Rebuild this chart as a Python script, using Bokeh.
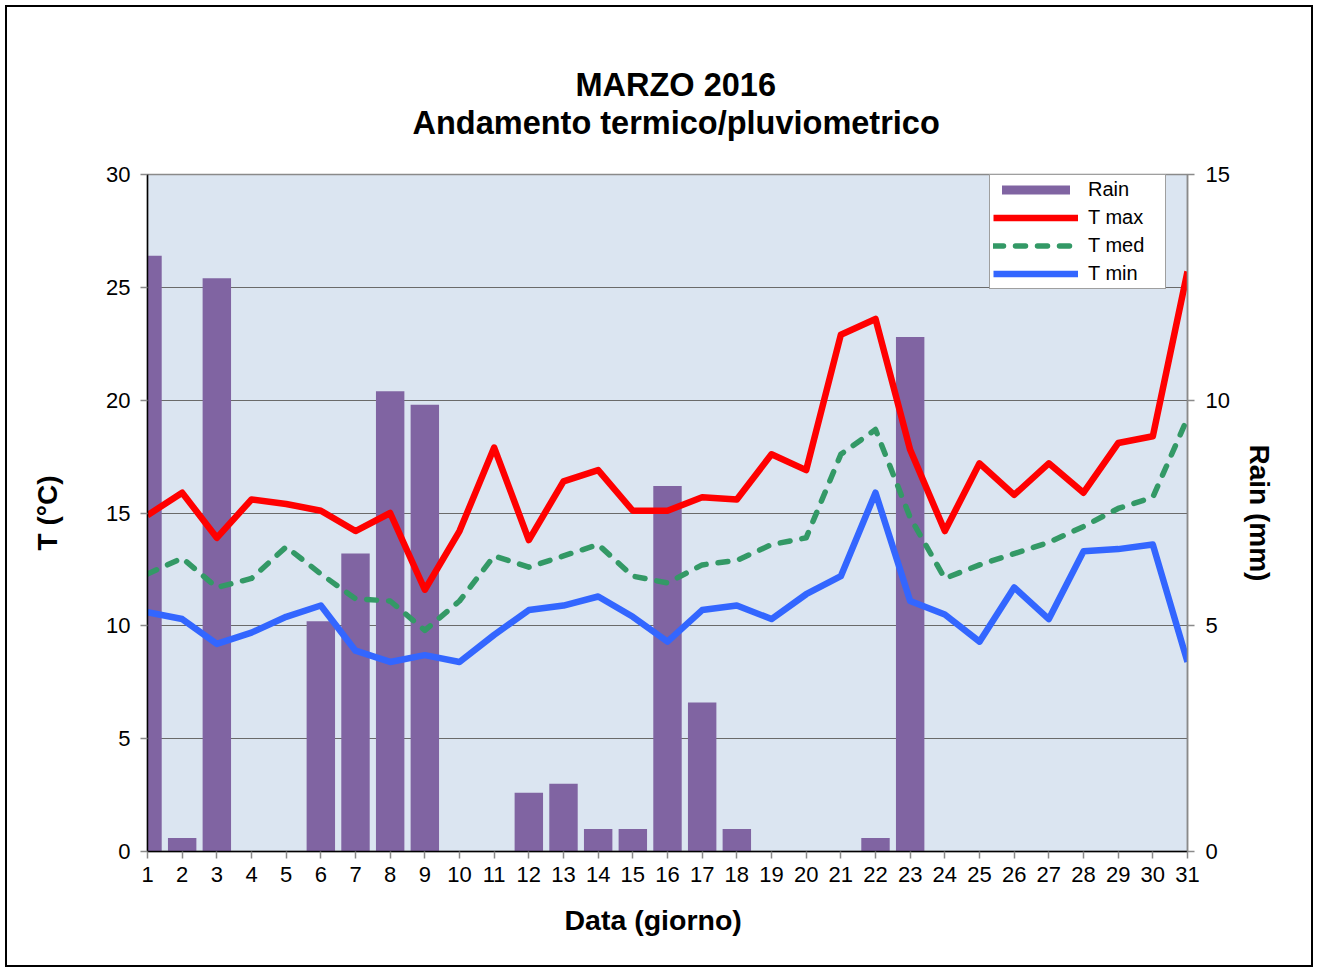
from bokeh.plotting import figure
from bokeh.models import Range1d, LinearAxis, FixedTicker, Legend, LegendItem, Title
from bokeh.embed import file_html
from bokeh.resources import INLINE

# ---- data ----
days = list(range(1, 32))
rain = [13.2, 0.3, 12.7, 0, 0, 5.1, 6.6, 10.2, 9.9, 0, 0, 1.3, 1.5, 0.5, 0.5,
        8.1, 3.3, 0.5, 0, 0, 0, 0.3, 11.4, 0, 0, 0, 0, 0, 0, 0, 0]
t_max = [14.9, 15.9, 13.9, 15.6, 15.4, 15.1, 14.2, 15.0, 11.6, 14.2, 17.9, 13.8,
         16.4, 16.9, 15.1, 15.1, 15.7, 15.6, 17.6, 16.9, 22.9, 23.6, 17.8, 14.2,
         17.2, 15.8, 17.2, 15.9, 18.1, 18.4, 25.7]
t_med = [12.3, 13.0, 11.7, 12.1, 13.5, 12.3, 11.2, 11.1, 9.8, 11.1, 13.1, 12.6,
         13.1, 13.6, 12.2, 11.9, 12.7, 12.9, 13.6, 13.9, 17.6, 18.7, 14.8, 12.1,
         12.7, 13.2, 13.7, 14.4, 15.2, 15.7, 19.2]
t_min = [10.6, 10.3, 9.2, 9.7, 10.4, 10.9, 8.9, 8.4, 8.7, 8.4, 9.6, 10.7,
         10.9, 11.3, 10.4, 9.3, 10.7, 10.9, 10.3, 11.4, 12.2, 15.9, 11.1, 10.5,
         9.3, 11.7, 10.3, 13.3, 13.4, 13.6, 8.4]
temp_ticks = [0, 5, 10, 15, 20, 25, 30]
rain_ticks = [0, 5, 10, 15]

title_1 = "MARZO 2016"
title_2 = "Andamento termico/pluviometrico"
x_label = "Data (giorno)"

FONT = "Liberation Sans"

p = figure(width=1308, height=962, x_range=Range1d(1, 31), y_range=Range1d(0, 30),
           output_backend="svg", toolbar_location=None,
           min_border_left=140, min_border_right=128,
           min_border_top=167, min_border_bottom=118)
p.styles = {"border": "2px solid black", "margin": "5px"}
p.extra_y_ranges = {"rain": Range1d(0, 15)}

# titles: spacer next to the frame, then line 2, then p.title (line 1) outermost
p.title.text = title_1
p.title.align = "left"
p.title.offset = 428
p.title.standoff = 0
p.title.vertical_align = "bottom"
p.title.text_font = FONT
p.title.text_font_size = "32.5px"
p.title.text_font_style = "bold"
p.title.text_color = "black"
p.add_layout(Title(text=".", standoff=31, text_font_size="1px",
                   text_color="white", text_alpha=1), "above")
p.add_layout(Title(text=title_2, align="left", offset=265, standoff=0,
                   vertical_align="bottom",
                   text_font=FONT, text_font_size="32.5px",
                   text_font_style="bold", text_color="black"), "above")

p.background_fill_color = "#DBE5F1"
p.border_fill_color = "white"
p.outline_line_color = "#8a8a8a"
p.outline_line_width = 1.5

p.xgrid.visible = False
p.ygrid.ticker = FixedTicker(ticks=temp_ticks)
p.ygrid.grid_line_color = "#6a6a6a"
p.ygrid.grid_line_width = 1

def style_axis(ax, line_color):
    ax.axis_line_color = line_color
    ax.axis_line_width = 1.5
    ax.major_tick_line_color = "#8a8a8a"
    ax.major_tick_line_width = 1.5
    ax.major_tick_out = 7
    ax.major_tick_in = 0
    ax.minor_tick_line_color = None
    ax.major_label_text_font = FONT
    ax.major_label_text_font_size = "22px"
    ax.major_label_text_color = "black"
    ax.axis_label_text_font = FONT
    ax.axis_label_text_font_size = "28px"
    ax.axis_label_text_font_style = "bold"
    ax.axis_label_text_color = "black"

yax = p.yaxis[0]
yax.ticker = FixedTicker(ticks=temp_ticks)
style_axis(yax, "black")
yax.axis_label = "T (°C)"
yax.major_label_standoff = 10
yax.axis_label_standoff = 40

xax = p.xaxis[0]
xax.ticker = FixedTicker(ticks=days)
style_axis(xax, "black")
xax.major_label_standoff = 8
p.add_layout(Title(text=x_label, align="left", offset=417, standoff=38,
                   vertical_align="top", text_font=FONT,
                   text_font_size="28.5px", text_font_style="bold",
                   text_color="black"), "below")

rax = LinearAxis(y_range_name="rain", ticker=FixedTicker(ticks=rain_ticks))
style_axis(rax, "#8a8a8a")
rax.axis_label = "Rain (mm)"
rax.major_label_standoff = 11
rax.axis_label_standoff = 11
p.add_layout(rax, "right")

bars = p.vbar(x=days, top=rain, width=0.82, y_range_name="rain",
              fill_color="#8064A2", line_color=None)
r_max = p.line(days, t_max, line_color="#FF0000", line_width=6.5, line_join="round")
r_med = p.line(days, t_med, line_color="#339966", line_width=5.5, line_dash="10 12",
               line_cap="round", line_join="round")
r_min = p.line(days, t_min, line_color="#3366FF", line_width=6.5, line_join="round")

legend = Legend(items=[
    LegendItem(label="Rain", renderers=[bars]),
    LegendItem(label="T max", renderers=[r_max]),
    LegendItem(label="T med", renderers=[r_med]),
    LegendItem(label="T min", renderers=[r_min]),
], location=(842, 562))
legend.label_text_font = FONT
legend.label_text_font_size = "20px"
legend.label_text_color = "black"
legend.glyph_width = 85
legend.glyph_height = 11
legend.label_height = 18
legend.label_width = 74
legend.label_standoff = 10
legend.spacing = 5
legend.padding = 3
legend.margin = 0
legend.border_line_color = "#404040"
legend.border_line_width = 1
legend.background_fill_color = "white"
legend.background_fill_alpha = 1
p.add_layout(legend)

open("out.html", "w").write(file_html(p, INLINE))
